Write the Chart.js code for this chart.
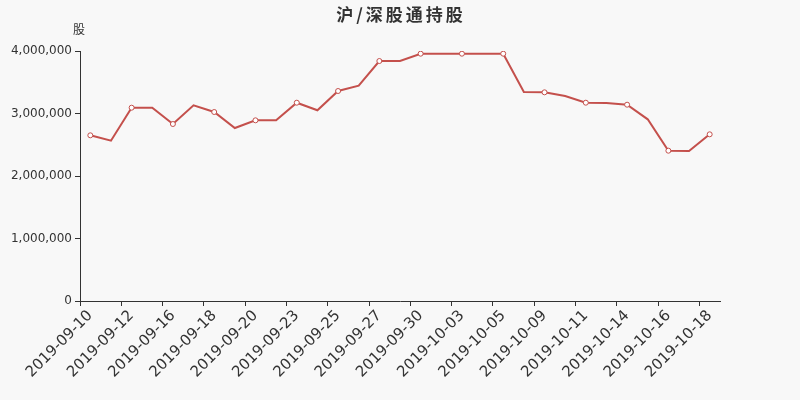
<!DOCTYPE html>
<html>
<head>
<meta charset="utf-8">
<script src="https://cdn.jsdelivr.net/npm/chart.js@4/dist/chart.umd.min.js"></script>
<style>
  html, body { margin: 0; background: #f8f8f8; }
  #wrap { width: 800px; height: 400px; }
</style>
</head>
<body>
<div id="wrap"><canvas id="myChart"></canvas></div>
<script>
const title = "沪/深股通持股"
const unit = "股"

const dates = [
  "2019-09-10", "2019-09-11", "2019-09-12", "2019-09-13", "2019-09-16",
  "2019-09-17", "2019-09-18", "2019-09-19", "2019-09-20", "2019-09-22",
  "2019-09-23", "2019-09-24", "2019-09-25", "2019-09-26", "2019-09-27",
  "2019-09-29", "2019-09-30", "2019-10-01", "2019-10-03", "2019-10-04",
  "2019-10-05", "2019-10-08", "2019-10-09", "2019-10-10", "2019-10-11",
  "2019-10-12", "2019-10-14", "2019-10-15", "2019-10-16", "2019-10-17",
  "2019-10-18"
]

// shares held
const holdings = [
  2651000, 2565000, 3093000, 3093000, 2832000,
  3131000, 3024000, 2768000, 2891000, 2891000,
  3173000, 3051000, 3360000, 3445000, 3840000,
  3840000, 3957000, 3957000, 3957000, 3957000,
  3957000, 3344000, 3339000, 3280000, 3173000,
  3168000, 3141000, 2907000, 2405000, 2400000,
  2667000
]

const yMin = 0
const yMax = 4000000
const yStep = 1000000

const lineColor = "#c4504c"
const textColor = "#333333"

const background = {
  id: "background",
  beforeDraw(chart) {
    const c = chart.ctx
    c.save()
    c.fillStyle = "#f8f8f8"
    c.fillRect(0, 0, chart.width, chart.height)
    c.restore()
  }
}

// title and unit label
const headings = {
  id: "headings",
  afterDraw(chart) {
    const c = chart.ctx
    c.save()
    c.fillStyle = textColor
    c.textAlign = "center"
    c.textBaseline = "middle"
    c.font = 'bold 17px "Noto Sans CJK SC", sans-serif'
    c.letterSpacing = "3px"
    c.fillText(title, 401, 15)
    c.letterSpacing = "0px"
    c.font = '12px "Noto Sans CJK SC", sans-serif'
    c.fillText(unit, chart.chartArea.left - 1, 29)
    c.restore()
  }
}

const ctx = document.getElementById("myChart").getContext("2d")

new Chart(ctx, {
  type: "line",
  data: {
    labels: dates,
    datasets: [{
      data: holdings,
      borderColor: lineColor,
      borderWidth: 2,
      tension: 0,
      fill: false,
      pointRadius: (c) => c.dataIndex % 2 === 0 ? 2.5 : 0,
      pointBackgroundColor: "#ffffff",
      pointBorderColor: lineColor,
      pointBorderWidth: 1
    }]
  },
  options: {
    responsive: true,
    maintainAspectRatio: false,
    animation: false,
    layout: {
      padding: { top: 51, right: 80, left: 0, bottom: 0 }
    },
    plugins: {
      legend: { display: false },
      title: { display: false },
      tooltip: { enabled: false }
    },
    scales: {
      x: {
        type: "category",
        offset: true,
        grid: {
          offset: true,
          drawOnChartArea: false,
          drawTicks: true,
          tickLength: 5,
          color: (c) => c.index % 2 === 0 ? textColor : "rgba(0,0,0,0)"
        },
        border: { display: true, color: textColor, width: 1 },
        ticks: {
          autoSkip: false,
          minRotation: 45,
          maxRotation: 45,
          padding: 1,
          color: textColor,
          font: { size: 15, family: "DejaVu Sans" },
          callback: function (v, i) {
            return i % 2 === 0 ? this.getLabelForValue(v) : ""
          }
        },
        afterFit(s) { s.height = 99 }
      },
      y: {
        min: yMin,
        max: yMax,
        grid: {
          drawOnChartArea: false,
          drawTicks: true,
          tickLength: 5,
          color: textColor
        },
        border: { display: true, color: textColor, width: 1 },
        ticks: {
          stepSize: yStep,
          padding: 3,
          color: textColor,
          font: { size: 12, family: "DejaVu Sans" },
          callback: (v) => v.toLocaleString("en-US")
        },
        afterFit(s) { s.width = 80 }
      }
    }
  },
  plugins: [background, headings]
})
</script>
</body>
</html>
